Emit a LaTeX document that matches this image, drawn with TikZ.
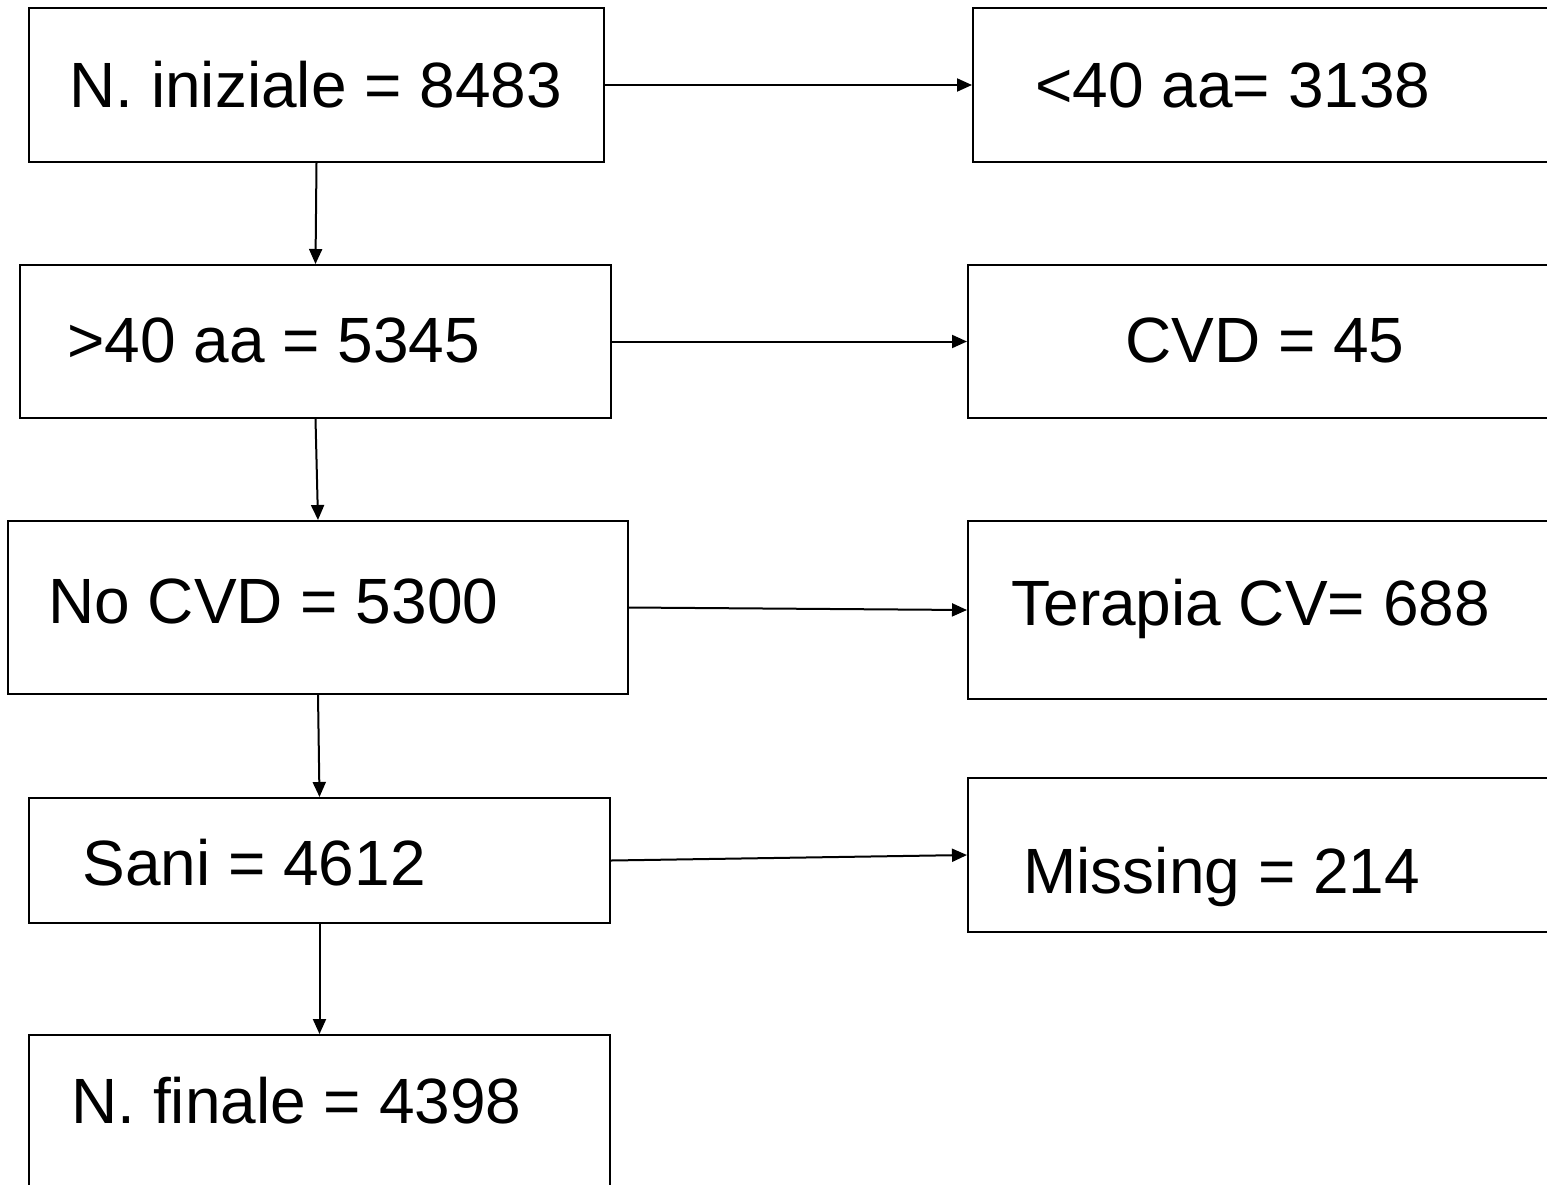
\documentclass[tikz,border=0pt]{standalone}
\usepackage{fontspec}
\setmainfont{Liberation Sans}
\usetikzlibrary{arrows.meta}
\begin{document}
\begin{tikzpicture}[x=0.5pt,y=-0.5pt,
  box/.style={draw=black, line width=1pt, inner sep=0pt, rectangle},
  lbl/.style={anchor=base west, inner sep=0pt, font=\fontsize{32pt}{38pt}\selectfont},
  flow/.style={draw=black, line width=1pt, -{Triangle[length=7.5pt,width=6.5pt]}}]
\useasboundingbox (0,0) rectangle (1547,1184);
\clip (0,0) rectangle (1547,1184);
% left column
\node[box, minimum width=287.5pt, minimum height=77pt] (b1) at (316.5,85) {};
\node[box, minimum width=295.5pt, minimum height=76.5pt] (b2) at (315.5,341.5) {};
\node[box, minimum width=310pt, minimum height=86.5pt] (b3) at (318,607.5) {};
\node[box, minimum width=290.5pt, minimum height=62.5pt] (b4) at (319.5,860.5) {};
\node[box, minimum width=290.5pt, minimum height=82.5pt] (b5) at (319.5,1117.5) {};
% right column
\node[box, minimum width=298.5pt, minimum height=77pt] (r1) at (1271.5,85) {};
\node[box, minimum width=301pt, minimum height=76.5pt] (r2) at (1269,341.5) {};
\node[box, minimum width=301pt, minimum height=89pt] (r3) at (1269,610) {};
\node[box, minimum width=301pt, minimum height=77pt] (r4) at (1269,855) {};
% labels
\node[lbl] (t1) at (69,107) {N. iniziale = 8483};
\node[lbl] (t2) at (67,362) {>40 aa = 5345};
\node[lbl] (t3) at (48,623) {No CVD = 5300};
\node[lbl] (t4) at (82,885) {Sani = 4612};
\node[lbl] (t5) at (71,1123) {N. finale = 4398};
\node[lbl] (s1) at (1035,107) {<40 aa= 3138};
\node[lbl] (s2) at (1125,362) {CVD = 45};
\node[lbl] (s3) at (1011,625) {Terapia CV= 688};
\node[lbl] (s4) at (1023,893) {Missing = 214};
% connectors
\draw[flow] (b1.south) -- (b2.north);
\draw[flow] (b2.south) -- (b3.north);
\draw[flow] (b3.south) -- (b4.north);
\draw[flow] (b4.south) -- (b5.north);
\draw[flow] (b1.east) -- (r1.west);
\draw[flow] (b2.east) -- (r2.west);
\draw[flow] (b3.east) -- (r3.west);
\draw[flow] (b4.east) -- (r4.west);
\end{tikzpicture}
\end{document}
